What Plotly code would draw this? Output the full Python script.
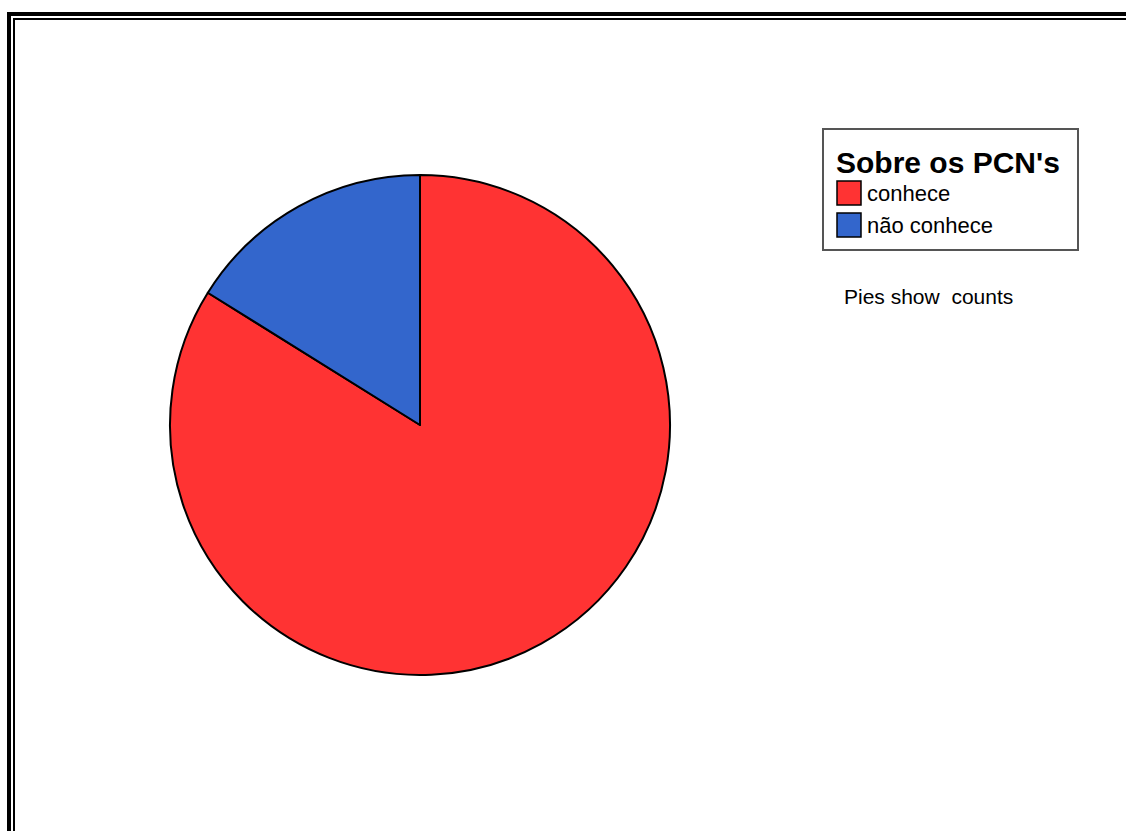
import plotly.graph_objects as go

# Survey answers about the PCN's (counts)
labels = ["conhece", "não conhece"]
counts = [26, 5]
colors = ["#FF3333", "#3366CC"]

legend_title = "Sobre os PCN's"
note_text = "Pies show  counts"

W, H = 1126, 831


def px(x):
    return x / W


def py(y):
    return 1 - y / H


fig = go.Figure(
    go.Pie(
        labels=labels,
        values=counts,
        marker=dict(colors=colors, line=dict(color="black", width=2)),
        sort=False,
        direction="clockwise",
        rotation=0,
        textinfo="none",
        hoverinfo="label+value",
        showlegend=False,
        domain=dict(x=[px(170), px(670)], y=[py(675), py(175)]),
    )
)

shapes = []
# double frame along the top and left
shapes.append(dict(type="path", xref="paper", yref="paper",
                   path=f"M {px(9)},{py(840)} L {px(9)},{py(14)} L {px(1140)},{py(14)}",
                   line=dict(color="black", width=4)))
shapes.append(dict(type="path", xref="paper", yref="paper",
                   path=f"M {px(14)},{py(840)} L {px(14)},{py(19)} L {px(1140)},{py(19)}",
                   line=dict(color="black", width=2)))

# legend box
shapes.append(dict(type="rect", xref="paper", yref="paper",
                   x0=px(823), x1=px(1078), y0=py(250), y1=py(129),
                   line=dict(color="#555555", width=2), fillcolor="white"))

annotations = [
    dict(text=f"<b>{legend_title}</b>", xref="paper", yref="paper",
         x=px(834), y=py(162), xanchor="left", yanchor="middle", showarrow=False,
         font=dict(family="Liberation Sans, Arial", size=30, color="black")),
    dict(text=note_text, xref="paper", yref="paper",
         x=px(842), y=py(296), xanchor="left", yanchor="middle", showarrow=False,
         font=dict(family="Liberation Sans, Arial", size=21, color="black")),
]

row_y = [193, 225]
for lab, col, yc in zip(labels, colors, row_y):
    shapes.append(dict(type="rect", xref="paper", yref="paper",
                       x0=px(837), x1=px(861), y0=py(yc + 12), y1=py(yc - 12),
                       line=dict(color="black", width=1.5), fillcolor=col))
    annotations.append(dict(text=lab, xref="paper", yref="paper",
                            x=px(865), y=py(yc), xanchor="left", yanchor="middle",
                            showarrow=False,
                            font=dict(family="Liberation Sans, Arial", size=22, color="black")))

fig.update_layout(
    width=W, height=H,
    margin=dict(l=0, r=0, t=0, b=0),
    paper_bgcolor="white",
    plot_bgcolor="white",
    shapes=shapes,
    annotations=annotations,
)

fig.write_html("out.html")
